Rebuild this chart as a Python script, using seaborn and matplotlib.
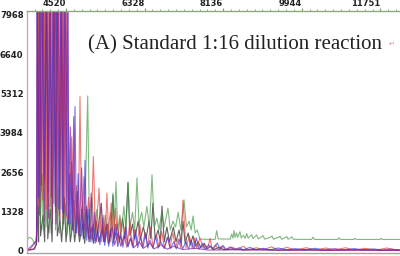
import numpy as np
import pandas as pd
import matplotlib
matplotlib.use("Agg")
import matplotlib.pyplot as plt
from matplotlib.ticker import FixedLocator, MultipleLocator
import seaborn as sns

# ---------------- data (scan, rfu) vertices ----------------
x_ticks = [4520, 6328, 8136, 9944, 11751]
y_ticks = [0, 1328, 2656, 3984, 5312, 6640, 7968]
title = "(A) Standard 1:16 dilution reaction"

blue = [(3623, 60), (3680, 90), (3740, 180), (3790, 260), (3845, 320), (3855, 9500), (3885, 1800),
        (3920, 9500), (3955, 2200),
        (3990, 9500), (4025, 2500), (4065, 9500), (4105, 2000),
        (4145, 9500), (4185, 1800), (4228, 9500), (4270, 1500),
        (4312, 9500), (4355, 1400), (4398, 9500), (4440, 1300),
        (4482, 9500), (4525, 1200), (4562, 9500), (4585, 900),
        (4610, 2600), (4630, 900), (4650, 3000), (4680, 700),
        (4727, 4870), (4760, 600), (4800, 2600), (4840, 500), (4880, 1400), (4920, 400), (4957, 3060),
        (4995, 350), (5050, 1400), (5090, 300), (5150, 900), (5190, 250), (5250, 700), (5300, 200),
        (5360, 1100), (5410, 180), (5450, 650), (5500, 150), (5550, 700), (5600, 150), (5660, 900),
        (5710, 140), (5780, 500), (5830, 120), (5900, 800), (5950, 130), (6010, 450), (6060, 100),
        (6120, 700), (6170, 100), (6230, 450), (6290, 90), (6350, 600), (6400, 90), (6450, 350),
        (6520, 80), (6580, 500), (6640, 80), (6700, 300), (6780, 70), (6860, 460), (6920, 70),
        (7000, 300), (7060, 60), (7140, 400), (7200, 60), (7280, 300), (7340, 60), (7400, 350),
        (7460, 60), (7520, 430), (7580, 50), (7660, 250), (7720, 50), (7800, 200), (7900, 40),
        (8000, 260), (8060, 40), (8130, 180), (8200, 40), (8300, 130), (8400, 30), (8500, 100),
        (8600, 30), (8750, 110), (8900, 30), (9050, 80), (9200, 25), (9400, 90), (9600, 25),
        (9800, 70), (10000, 25), (10250, 80), (10450, 20), (10700, 70), (10900, 20), (11150, 70),
        (11350, 20), (11600, 60), (11800, 20), (12000, 50), (12200, 20)]

red = [(3623, 10), (3680, 40), (3730, 120), (3780, 200), (3820, 350), (3845, 500), (3865, 9500),
       (3880, 1500), (3898, 9500), (3915, 1800), (3935, 9500), (3952, 2000), (3972, 9500),
       (3990, 1700), (4012, 9500), (4030, 2300), (4050, 9500), (4070, 1400), (4092, 9500),
       (4112, 1900), (4132, 9500), (4152, 1500), (4175, 9500), (4195, 1200), (4218, 9500),
       (4238, 1600), (4260, 9500), (4280, 1300), (4302, 9500), (4322, 1500), (4345, 9500),
       (4365, 1200), (4388, 9500), (4408, 1400), (4430, 9500), (4450, 1100), (4472, 9500),
       (4492, 1300), (4515, 9500), (4535, 1100), (4555, 9500), (4590, 1000),
       (4650, 3850), (4690, 800), (4760, 2200), (4800, 600),
       (4842, 5205), (4880, 500), (4930, 2500), (4970, 450), (5040, 1800), (5090, 400), (5150, 3180),
       (5200, 350), (5280, 2120), (5330, 300), (5390, 1200), (5420, 300), (5460, 1950), (5510, 250),
       (5560, 1610), (5610, 300), (5660, 1440), (5710, 250), (5760, 1100), (5810, 200), (5880, 800),
       (5930, 200), (5990, 1000), (6040, 180), (6100, 700), (6150, 180), (6220, 900), (6270, 150),
       (6340, 600), (6400, 150), (6460, 800), (6520, 140), (6600, 550), (6660, 130), (6720, 650),
       (6780, 120), (6850, 450), (6910, 110), (6980, 600), (7040, 100), (7100, 400), (7160, 100),
       (7210, 1700), (7280, 100), (7360, 500), (7420, 90), (7480, 430), (7530, 80), (7600, 430),
       (7680, 80), (7720, 200), (7780, 60), (7830, 420), (7880, 60), (7960, 200), (8020, 40),
       (8100, 150), (8200, 40), (8350, 120), (8450, 30), (8600, 150), (8700, 30), (8900, 100),
       (9050, 30), (9250, 130), (9400, 25), (9600, 110), (9800, 25), (10050, 100), (10250, 25),
       (10500, 90), (10700, 20), (10950, 100), (11150, 20), (11400, 80), (11650, 20), (11900, 90),
       (12100, 30), (12200, 20)]

green = [(3623, 300), (3650, 430), (3700, 450), (3750, 380), (3790, 220), (3830, 300), (3860, 1200),
         (3900, 9500), (3930, 900), (3970, 2600), (3995, 700), (4020, 9500), (4060, 800), (4110, 1900),
         (4150, 600), (4240, 9500), (4280, 700), (4330, 2200), (4370, 600), (4410, 9500), (4450, 700),
         (4500, 1600), (4540, 500), (4600, 1400), (4640, 500), (4700, 1700), (4740, 500), (4790, 1300),
         (4830, 450), (4890, 1500), (4940, 500), (5019, 5230), (5060, 600), (5120, 1800), (5170, 500),
         (5230, 1400), (5280, 600), (5330, 1600), (5380, 500), (5430, 1200), (5480, 600), (5540, 1300),
         (5580, 700), (5601, 1950), (5630, 800), (5670, 2330), (5710, 700), (5760, 1200), (5800, 650),
         (5850, 1500), (5900, 700), (5946, 2330), (5990, 800), (6050, 1300), (6100, 700), (6153, 2460),
         (6200, 900), (6260, 1300), (6310, 800), (6380, 1500), (6440, 800), (6498, 2570), (6550, 800),
         (6610, 1100), (6660, 700), (6720, 1300), (6780, 800), (6866, 1440), (6920, 700), (6980, 1000),
         (7040, 800), (7100, 1300), (7160, 700), (7234, 1720), (7290, 800), (7350, 1000), (7400, 700),
         (7441, 1170), (7490, 600), (7540, 700), (7600, 390), (7950, 380), (7986, 680), (8020, 400),
         (8300, 390), (8330, 560), (8360, 420), (8384, 680), (8410, 450), (8440, 600), (8470, 450),
         (8500, 560), (8522, 640), (8550, 430), (8600, 520), (8640, 420), (8676, 580), (8710, 420),
         (8760, 500), (8791, 540), (8820, 410), (8870, 480), (8906, 530), (8940, 400), (9020, 470),
         (9051, 510), (9090, 390), (9230, 460), (9258, 500), (9290, 390), (9410, 450), (9442, 490),
         (9480, 385), (9570, 440), (9596, 480), (9630, 385), (9690, 440), (9718, 470), (9750, 385),
         (10170, 380), (10201, 460), (10240, 380), (10770, 380), (10799, 440), (10830, 380),
         (11140, 380), (11167, 420), (11200, 380), (11740, 380), (11765, 420), (11800, 380), (12200, 380)]

black = [(3623, 30), (3700, 40), (3780, 60), (3840, 200), (3870, 1500), (3890, 300), (3910, 9500),
         (3935, 500), (3990, 1200), (4030, 300), (4070, 9500), (4100, 400), (4160, 1400), (4200, 300),
         (4290, 9500), (4320, 500), (4380, 1000), (4420, 300), (4480, 1800), (4520, 300), (4580, 1300),
         (4620, 300), (4680, 1000), (4720, 300), (4780, 1200), (4830, 300), (4900, 900), (4950, 250),
         (5000, 1400), (5050, 300), (5100, 800), (5150, 250), (5220, 1000), (5270, 300), (5350, 700),
         (5400, 300), (5470, 900), (5530, 300), (5601, 1880), (5640, 400), (5700, 900), (5750, 300),
         (5820, 1100), (5880, 400), (5946, 2290), (5990, 500), (6050, 900), (6100, 400), (6180, 1000),
         (6230, 400), (6300, 800), (6360, 400), (6430, 1000), (6470, 400), (6520, 1610), (6570, 400),
         (6640, 700), (6690, 300), (6728, 1510), (6780, 300), (6840, 800), (6900, 300), (6990, 800),
         (7050, 300), (7120, 700), (7170, 250), (7210, 1000), (7260, 250), (7330, 600), (7380, 200),
         (7440, 500), (7500, 150), (7560, 300), (7620, 100), (7700, 250), (7760, 60), (7850, 150),
         (7920, 40), (8050, 120), (8150, 30), (8400, 60), (8600, 20), (9000, 50), (9400, 20),
         (10000, 40), (10600, 15), (11200, 40), (11800, 15), (12200, 20)]

purple = [(3623, 0), (3800, 50), (3845, 300), (3860, 9500), (3910, 1200),
          (3962, 9500), (4018, 1000), (4078, 9500), (4120, 1100),
          (4158, 9500), (4200, 900),
          (4250, 9500), (4290, 900), (4335, 9500), (4380, 900),
          (4422, 9500), (4465, 900), (4505, 9500), (4565, 900),
          (4619, 4190), (4660, 700), (4697, 4530), (4730, 600), (4780, 2000), (4820, 500), (4880, 2800),
          (4920, 450), (4990, 1500), (5040, 400), (5100, 1950), (5140, 350), (5180, 1300), (5220, 300),
          (5330, 1600), (5380, 300), (5450, 900), (5500, 250), (5580, 800), (5640, 200), (5720, 600),
          (5780, 150), (5860, 500), (5920, 120), (6000, 400), (6080, 100), (6200, 300), (6300, 80),
          (6450, 250), (6550, 60), (6700, 200), (6850, 50), (7000, 150), (7200, 40), (7500, 80),
          (7800, 20), (8500, 30), (9500, 10), (12200, 10)]

dyes = {"black": black, "green": green, "red": red, "blue": blue, "purple": purple}
palette = {"black": "#1c1c1c", "green": "#4a9a4a", "purple": "#8c1c8c",
           "blue": "#3a3ae0", "red": "#e8403c"}

rows = []
for name, pts in dyes.items():
    for i, (s, r) in enumerate(pts):
        rows.append({"dye": name, "order": i, "scan": s, "rfu": r})
df = pd.DataFrame(rows)

# ---------------- plot ----------------
sns.set_style("white")
fig = plt.figure(figsize=(4.0, 2.56), dpi=100)
ax = fig.add_axes([27 / 400, 3 / 256, 373 / 400, 242 / 256])

sns.lineplot(data=df, x="scan", y="rfu", hue="dye", palette=palette, hue_order=list(dyes.keys()),
             estimator=None, sort=False, units="dye", lw=0.8, alpha=0.7, legend=False, ax=ax)

ax.set_xlim(3623, 12202)
ax.set_ylim(-78, 8102)
ax.set_xlabel("")
ax.set_ylabel("")

ax.xaxis.tick_top()
ax.xaxis.set_major_locator(FixedLocator(x_ticks))
ax.xaxis.set_minor_locator(MultipleLocator(180.775))
ax.set_xticklabels([str(v) for v in x_ticks])
ax.yaxis.set_major_locator(FixedLocator(y_ticks))
ax.yaxis.set_minor_locator(MultipleLocator(442.67))
ax.set_yticklabels([str(v) for v in y_ticks])

ax.tick_params(axis="x", which="both", direction="out", colors="#222222", labelsize=6, pad=0,
               top=True, bottom=False)
ax.tick_params(axis="x", which="major", length=2.5, color="#7a9a6a")
ax.tick_params(axis="x", which="minor", length=1.8, color="#7a9a6a")
ax.tick_params(axis="y", which="both", direction="out", labelsize=6.1, pad=0.5, color="#d8a0b8",
               labelcolor="#222222")
ax.tick_params(axis="y", which="major", length=2)
ax.tick_params(axis="y", which="minor", length=2)
for lbl in ax.get_xticklabels():
    lbl.set_ha("right")
    lbl.set_fontweight("bold")
for lbl in ax.get_yticklabels():
    lbl.set_fontweight("bold")

ax.spines["right"].set_visible(False)
ax.spines["left"].set_color("#d8a0b8")
ax.spines["left"].set_linewidth(1.0)
ax.spines["top"].set_color("#8faa80")
ax.spines["top"].set_linewidth(1.0)
ax.spines["bottom"].set_color("#a0a8a0")
ax.spines["bottom"].set_linewidth(1.0)

fig.text(88 / 400, (256 - 45) / 256, title, family="Liberation Serif", fontsize=15,
         color="#222222", ha="left", va="center")
fig.text(389 / 400, (256 - 44) / 256, "\u21b5", family="DejaVu Sans", fontsize=5,
         color="#d890a8", ha="left", va="center")

fig.savefig("out.png", dpi=100)
